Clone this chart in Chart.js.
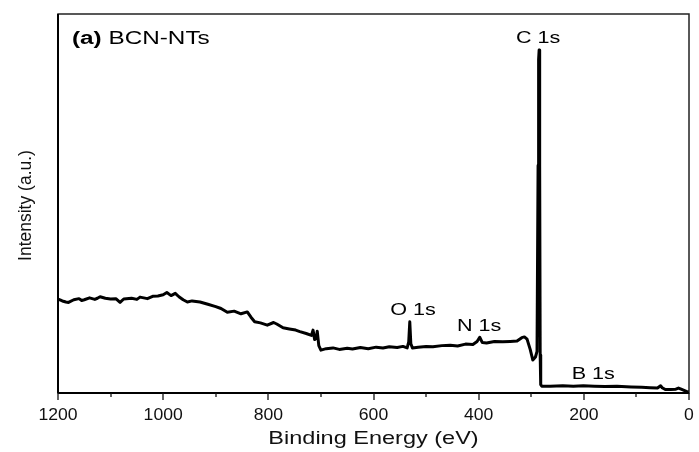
<!DOCTYPE html>
<html>
<head>
<meta charset="utf-8">
<script src="https://cdn.jsdelivr.net/npm/chart.js@4.4.1/dist/chart.umd.min.js"></script>
<style>
  html, body { margin: 0; padding: 0; background: #fff; }
  #wrap { width: 699px; height: 452px; }
</style>
</head>
<body>
<div id="wrap"><canvas id="myChart"></canvas></div>
<script>
// binding energy (eV) and intensity (a.u., 0..100 of the frame)
const energy = [1200, 1195, 1190, 1185, 1180, 1170, 1160, 1155, 1150, 1140, 1130, 1125, 1120, 1110, 1100, 1090, 1082, 1075, 1060, 1050,
    1044, 1030, 1020, 1010, 1000, 993, 985, 977, 970, 962, 954, 945, 930, 915, 900, 890, 878, 865, 852, 840,
    833, 826, 815, 802, 790, 784, 772, 760, 748, 740, 728, 718, 715, 712, 709, 707, 704, 700, 690, 677,
    665, 650, 640, 625, 610, 595, 582, 570, 555, 544, 536, 533, 531, 529, 526, 515, 500, 487, 470, 454,
    440, 425, 411, 403, 398, 393, 385, 370, 354, 340, 327, 318, 313, 308, 302, 297, 292, 289, 287, 286,
    285, 284, 283, 282, 280, 264, 240, 220, 201, 180, 160, 137, 110, 90, 74, 60, 54, 51, 45, 35,
    25, 20, 15, 5, 0];
const intensity = [24.8, 24.5, 24.2, 24.0, 23.9, 24.6, 24.9, 24.4, 24.6, 25.1, 24.7, 25.0, 25.4, 25.0, 24.8, 24.9, 23.9, 24.8, 25.0, 24.7,
    25.3, 24.9, 25.5, 25.6, 25.9, 26.5, 25.7, 26.3, 25.4, 24.6, 24.0, 24.3, 24.0, 23.4, 22.8, 22.3, 21.3, 21.6, 20.9, 21.4,
    20.0, 18.8, 18.5, 17.9, 18.6, 18.2, 17.2, 16.9, 16.6, 16.2, 15.7, 15.2, 16.6, 14.1, 14.5, 16.3, 12.5, 11.3, 11.7, 11.9,
    11.5, 11.8, 11.6, 12.0, 11.7, 12.1, 11.9, 12.2, 12.0, 12.3, 11.9, 13.5, 18.8, 13.0, 11.9, 12.1, 12.3, 12.2, 12.5, 12.6,
    12.4, 12.9, 12.8, 13.6, 14.7, 13.3, 13.2, 13.6, 13.5, 13.6, 13.7, 14.6, 14.8, 14.2, 11.5, 8.7, 9.5, 11.0, 60, 88,
    90.5, 60, 10, 2.2, 1.8, 1.8, 1.9, 1.8, 1.9, 1.8, 1.7, 1.8, 1.6, 1.5, 1.4, 1.3, 1.9, 1.4, 0.9, 0.9,
    1.0, 1.3, 1.0, 0.4, 0.3];

const xMajor = [1200, 1000, 800, 600, 400, 200, 0];
const xMinor = [1100, 900, 700, 500, 300, 100];

// peak labels: text, energy, intensity at the text baseline
const peakNames = ['C 1s', 'O 1s', 'N 1s', 'B 1s'];
const peakE = [287, 525, 399, 182];
const peakI = [92.3, 20.6, 16.4, 3.7];

const FONT = "'Liberation Sans', Arial, sans-serif";

// text in the picture is a bit wider than plain Arial, so stretch it sideways
function wideText(c, text, x, y, font, sx, align) {
    c.save();
    c.translate(x, y);
    c.scale(sx, 1);
    c.font = font;
    c.textAlign = align;
    c.textBaseline = 'alphabetic';
    c.fillText(text, 0, 0);
    c.restore();
}

const drawPlugin = {
    id: 'drawPlugin',
    afterDraw(chart) {
        const c = chart.ctx;
        const a = chart.chartArea;
        const xs = chart.scales.x, ys = chart.scales.y;
        c.save();
        // frame
        c.strokeStyle = '#222';
        c.lineWidth = 1.5;
        c.strokeRect(a.left, a.top, a.right - a.left, a.bottom - a.top);
        c.strokeStyle = '#000';
        c.lineWidth = 2;
        c.beginPath();
        c.moveTo(a.left, a.bottom);
        c.lineTo(a.right, a.bottom);
        c.moveTo(a.left, a.top);
        c.lineTo(a.left, a.bottom);
        c.stroke();
        // ticks
        c.lineWidth = 1.3;
        c.strokeStyle = '#111';
        xMajor.forEach(v => {
            const px = Math.round(xs.getPixelForValue(v));
            c.beginPath(); c.moveTo(px, a.bottom); c.lineTo(px, a.bottom + 7); c.stroke();
        });
        xMinor.forEach(v => {
            const px = Math.round(xs.getPixelForValue(v));
            c.beginPath(); c.moveTo(px, a.bottom); c.lineTo(px, a.bottom + 4); c.stroke();
        });
        c.fillStyle = '#111';
        xMajor.forEach(v => {
            wideText(c, String(v), xs.getPixelForValue(v), a.bottom + 27, '16px ' + FONT, 1.1, 'center');
        });
        wideText(c, 'Binding Energy (eV)', (a.left + a.right) / 2, a.bottom + 51, '18.5px ' + FONT, 1.27, 'center');
        // y title
        c.save();
        c.translate(31, (a.top + a.bottom) / 2 + 2);
        c.rotate(-Math.PI / 2);
        wideText(c, 'Intensity (a.u.)', 0, 0, '17.5px ' + FONT, 1, 'center');
        c.restore();
        // peak labels
        c.fillStyle = '#000';
        peakNames.forEach((t, i) => {
            wideText(c, t, xs.getPixelForValue(peakE[i]), ys.getPixelForValue(peakI[i]), '17px ' + FONT, 1.27, 'center');
        });
        // panel title
        c.save();
        c.translate(a.left + 14, a.top + 30);
        c.scale(1.35, 1);
        c.textBaseline = 'alphabetic';
        c.textAlign = 'left';
        c.font = 'bold 18px ' + FONT;
        c.fillText('(a)', 0, 0);
        const w = c.measureText('(a) ').width;
        c.font = '18px ' + FONT;
        c.fillText('BCN-NTs', w, 0);
        c.restore();
        c.restore();
    }
};

const ctx = document.getElementById('myChart').getContext('2d');
const myChart = new Chart(ctx, {
    type: 'line',
    data: {
        datasets: [{
            data: energy.map((e, i) => ({ x: e, y: intensity[i] })),
            borderColor: '#000',
            borderWidth: 3,
            borderJoinStyle: 'round',
            borderCapStyle: 'round',
            pointRadius: 0,
            tension: 0,
            fill: false
        }]
    },
    options: {
        responsive: true,
        maintainAspectRatio: false,
        animation: false,
        layout: { padding: { top: 14, right: 10, left: 0, bottom: 0 } },
        plugins: { legend: { display: false }, tooltip: { enabled: false } },
        scales: {
            x: {
                type: 'linear',
                reverse: true,
                min: 0,
                max: 1200,
                afterFit: (s) => { s.height = 59; },
                border: { display: false },
                grid: { display: false },
                ticks: { display: false }
            },
            y: {
                min: 0,
                max: 100,
                afterFit: (s) => { s.width = 58; },
                border: { display: false },
                grid: { display: false },
                ticks: { display: false }
            }
        }
    },
    plugins: [drawPlugin]
});
</script>
</body>
</html>
